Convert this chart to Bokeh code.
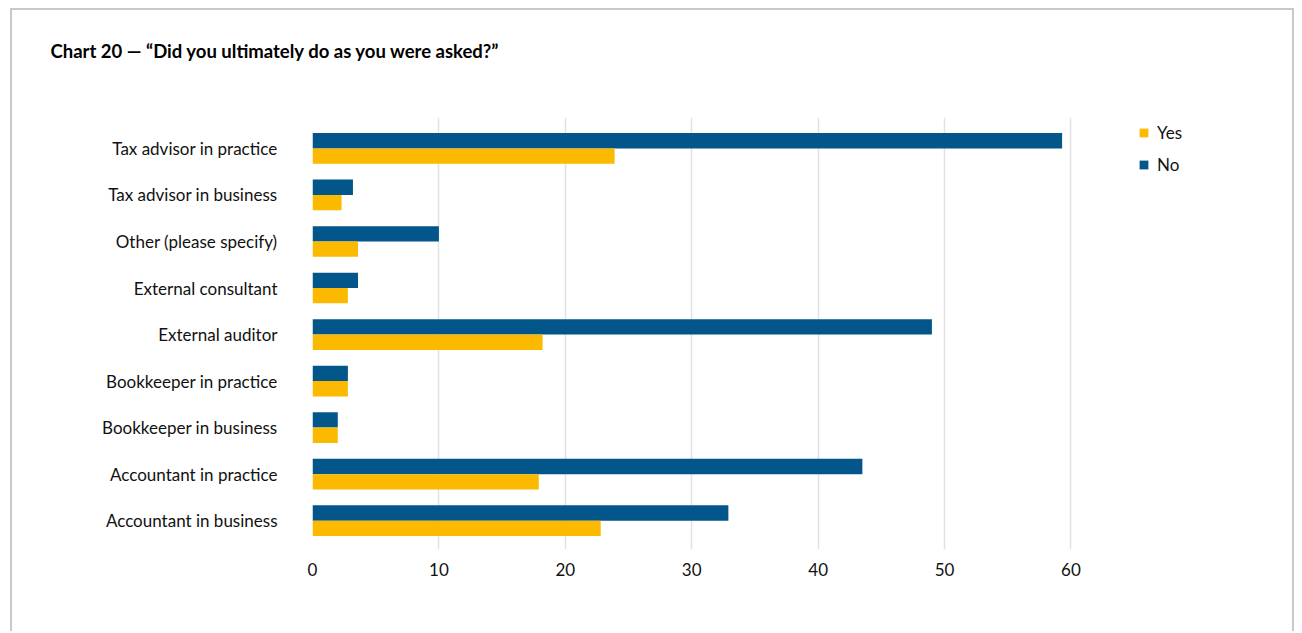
from bokeh.plotting import figure
from bokeh.models import Range1d, Legend, LegendItem, FixedTicker, ColumnDataSource, Title
from bokeh.embed import file_html
from bokeh.resources import INLINE

categories = ["Accountant in business", "Accountant in practice", "Bookkeeper in business",
              "Bookkeeper in practice", "External auditor", "External consultant",
              "Other (please specify)", "Tax advisor in business", "Tax advisor in practice"]
yes_vals = [22.8, 17.9, 2.0, 2.8, 18.2, 2.8, 3.6, 2.3, 23.9]
no_vals = [32.9, 43.5, 2.0, 2.8, 49.0, 3.6, 10.0, 3.2, 59.3]
x_ticks = [0, 10, 20, 30, 40, 50, 60]
title_text = "Chart 20 \u2014 \u201cDid you ultimately do as you were asked?\u201d"

NAVY = "#02568A"
GOLD = "#FBBA00"
FONT = "Lato"

idx = list(range(len(categories)))
src = ColumnDataSource(dict(
    y_no=[i + 0.165 for i in idx],
    y_yes=[i - 0.165 for i in idx],
    no=no_vals, yes=yes_vals))

# frame spans page x 312..1232 ; 0..60 maps to 312..1071
p = figure(width=1284, height=623, output_backend="svg", toolbar_location=None,
           x_range=Range1d(0, 72.78), y_range=Range1d(-0.62, 8.665),
           min_border_left=300, min_border_right=64, min_border_top=106, min_border_bottom=84)
p.styles = {"margin-left": "10px", "margin-top": "8px",
            "border-left": "2px solid #c8c8c8", "border-top": "2px solid #c8c8c8",
            "border-right": "2px solid #c8c8c8"}

r_no = p.hbar(y="y_no", right="no", left=0, height=0.33, source=src, color=NAVY, line_width=0)
r_yes = p.hbar(y="y_yes", right="yes", left=0, height=0.33, source=src, color=GOLD, line_width=0)

title = Title(text=title_text, align="left", offset=-262, standoff=0,
              vertical_align="top",
              text_font=FONT, text_font_style="bold", text_font_size="18.5px",
              text_color="#000000")
try:
    title.padding = dict(top=29, right=0, bottom=54, left=0)
except Exception:
    title.standoff = 58
p.title = title

p.outline_line_color = None
p.ygrid.grid_line_color = None
p.xgrid.grid_line_color = "#e2e2e2"
p.xgrid.grid_line_width = 1.5
p.xaxis.ticker = FixedTicker(ticks=x_ticks)
p.yaxis.ticker = FixedTicker(ticks=idx)
p.yaxis.major_label_overrides = {i: c for i, c in zip(idx, categories)}
for ax in (p.xaxis[0], p.yaxis[0]):
    ax.axis_line_color = None
    ax.major_tick_line_color = None
    ax.minor_tick_line_color = None
    ax.major_label_text_font = FONT
    ax.major_label_text_color = "#111111"
p.xaxis.major_label_text_font_size = "17px"
p.xaxis.major_label_standoff = 7
p.yaxis.major_label_text_font_size = "17px"
p.yaxis.major_label_standoff = 29

legend = Legend(items=[LegendItem(label="Yes", renderers=[r_yes]),
                       LegendItem(label="No", renderers=[r_no])],
                location=(826, 374), orientation="vertical",
                glyph_width=11, glyph_height=11, label_height=11, spacing=11,
                label_text_font=FONT, label_text_font_size="17px", label_text_color="#111111",
                border_line_color=None, background_fill_alpha=0, padding=0,
                margin=0, label_standoff=8)
p.add_layout(legend, "center")

open("out.html", "w").write(file_html(p, INLINE))
